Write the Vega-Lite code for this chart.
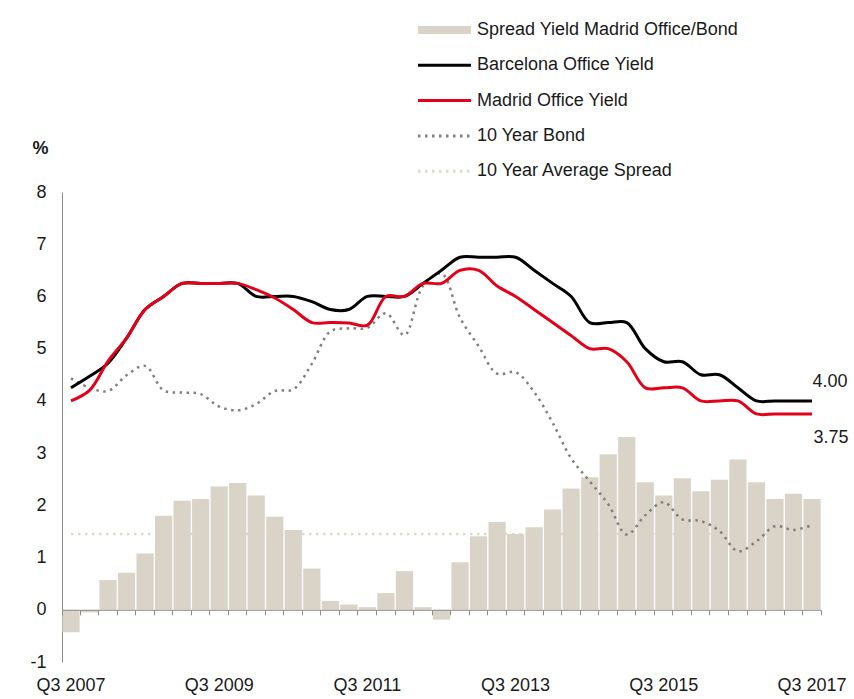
{
  "$schema": "https://vega.github.io/schema/vega-lite/v6.json",
  "width": 759,
  "height": 470,
  "autosize": {"type": "none"},
  "padding": {"left": 62, "top": 192, "right": 33, "bottom": 37},
  "background": "white",
  "config": {
    "font": "Liberation Sans",
    "view": {"stroke": null},
    "axis": {"labelFont": "Liberation Sans", "labelFontSize": 18, "labelColor": "#1a1a1a", "domainColor": "#8c8c8c", "tickColor": "#8c8c8c"}
  },
  "data": {
    "values": [
      {"q": "Q3 2007", "spread": -0.43, "bcn": 4.25, "mad": 4.0, "bond": 4.43, "avg": 1.45},
      {"q": "Q4 2007", "spread": -0.05, "bcn": 4.47, "mad": 4.2, "bond": 4.25, "avg": 1.45},
      {"q": "Q1 2008", "spread": 0.57, "bcn": 4.72, "mad": 4.76, "bond": 4.19, "avg": 1.45},
      {"q": "Q2 2008", "spread": 0.71, "bcn": 5.2, "mad": 5.2, "bond": 4.49, "avg": 1.45},
      {"q": "Q3 2008", "spread": 1.08, "bcn": 5.75, "mad": 5.75, "bond": 4.67, "avg": 1.45},
      {"q": "Q4 2008", "spread": 1.8, "bcn": 6.0, "mad": 6.0, "bond": 4.2, "avg": 1.45},
      {"q": "Q1 2009", "spread": 2.09, "bcn": 6.25, "mad": 6.25, "bond": 4.16, "avg": 1.45},
      {"q": "Q2 2009", "spread": 2.12, "bcn": 6.25, "mad": 6.25, "bond": 4.13, "avg": 1.45},
      {"q": "Q3 2009", "spread": 2.36, "bcn": 6.25, "mad": 6.25, "bond": 3.89, "avg": 1.45},
      {"q": "Q4 2009", "spread": 2.43, "bcn": 6.25, "mad": 6.25, "bond": 3.82, "avg": 1.45},
      {"q": "Q1 2010", "spread": 2.19, "bcn": 6.0, "mad": 6.13, "bond": 3.94, "avg": 1.45},
      {"q": "Q2 2010", "spread": 1.78, "bcn": 6.0, "mad": 5.97, "bond": 4.19, "avg": 1.45},
      {"q": "Q3 2010", "spread": 1.53, "bcn": 6.0, "mad": 5.75, "bond": 4.22, "avg": 1.45},
      {"q": "Q4 2010", "spread": 0.79, "bcn": 5.9, "mad": 5.5, "bond": 4.71, "avg": 1.45},
      {"q": "Q1 2011", "spread": 0.17, "bcn": 5.75, "mad": 5.5, "bond": 5.33, "avg": 1.45},
      {"q": "Q2 2011", "spread": 0.1, "bcn": 5.75, "mad": 5.49, "bond": 5.39, "avg": 1.45},
      {"q": "Q3 2011", "spread": 0.05, "bcn": 6.0, "mad": 5.45, "bond": 5.4, "avg": 1.45},
      {"q": "Q4 2011", "spread": 0.32, "bcn": 6.0, "mad": 6.0, "bond": 5.68, "avg": 1.45},
      {"q": "Q1 2012", "spread": 0.74, "bcn": 6.0, "mad": 6.0, "bond": 5.26, "avg": 1.45},
      {"q": "Q2 2012", "spread": 0.05, "bcn": 6.25, "mad": 6.25, "bond": 6.2, "avg": 1.45},
      {"q": "Q3 2012", "spread": -0.19, "bcn": 6.5, "mad": 6.25, "bond": 6.44, "avg": 1.45},
      {"q": "Q4 2012", "spread": 0.91, "bcn": 6.75, "mad": 6.5, "bond": 5.59, "avg": 1.45},
      {"q": "Q1 2013", "spread": 1.41, "bcn": 6.75, "mad": 6.5, "bond": 5.05, "avg": 1.45},
      {"q": "Q2 2013", "spread": 1.68, "bcn": 6.75, "mad": 6.2, "bond": 4.52, "avg": 1.45},
      {"q": "Q3 2013", "spread": 1.45, "bcn": 6.75, "mad": 6.0, "bond": 4.55, "avg": 1.45},
      {"q": "Q4 2013", "spread": 1.58, "bcn": 6.5, "mad": 5.75, "bond": 4.17, "avg": 1.45},
      {"q": "Q1 2014", "spread": 1.92, "bcn": 6.25, "mad": 5.5, "bond": 3.58, "avg": 1.45},
      {"q": "Q2 2014", "spread": 2.32, "bcn": 6.0, "mad": 5.25, "bond": 2.9, "avg": 1.45},
      {"q": "Q3 2014", "spread": 2.54, "bcn": 5.5, "mad": 5.0, "bond": 2.46, "avg": 1.45},
      {"q": "Q4 2014", "spread": 2.98, "bcn": 5.5, "mad": 5.0, "bond": 2.02, "avg": 1.45},
      {"q": "Q1 2015", "spread": 3.31, "bcn": 5.5, "mad": 4.75, "bond": 1.44, "avg": 1.45},
      {"q": "Q2 2015", "spread": 2.44, "bcn": 5.0, "mad": 4.25, "bond": 1.81, "avg": 1.45},
      {"q": "Q3 2015", "spread": 2.19, "bcn": 4.75, "mad": 4.25, "bond": 2.06, "avg": 1.45},
      {"q": "Q4 2015", "spread": 2.52, "bcn": 4.75, "mad": 4.25, "bond": 1.73, "avg": 1.45},
      {"q": "Q1 2016", "spread": 2.27, "bcn": 4.5, "mad": 4.0, "bond": 1.7, "avg": 1.45},
      {"q": "Q2 2016", "spread": 2.49, "bcn": 4.5, "mad": 4.0, "bond": 1.51, "avg": 1.45},
      {"q": "Q3 2016", "spread": 2.88, "bcn": 4.25, "mad": 4.0, "bond": 1.12, "avg": 1.45},
      {"q": "Q4 2016", "spread": 2.44, "bcn": 4.0, "mad": 3.75, "bond": 1.31, "avg": 1.45},
      {"q": "Q1 2017", "spread": 2.12, "bcn": 4.0, "mad": 3.75, "bond": 1.6, "avg": 1.45},
      {"q": "Q2 2017", "spread": 2.22, "bcn": 4.0, "mad": 3.75, "bond": 1.53, "avg": 1.45},
      {"q": "Q3 2017", "spread": 2.12, "bcn": 4.0, "mad": 3.75, "bond": 1.62, "avg": 1.45}
    ]
  },
  "resolve": {"axis": {"x": "independent"}},
  "layer": [
    {
      "mark": {"type": "line", "strokeWidth": 2.5, "strokeDash": [2.5, 4.5], "strokeCap": "butt"},
      "encoding": {
        "x": {"field": "q", "type": "nominal", "sort": null,
              "scale": {"type": "band", "paddingInner": 0.07, "paddingOuter": 0.02},
              "axis": {"orient": "bottom", "title": null, "domain": false, "ticks": false, "labelAngle": 0, "labelPadding": 14,
                       "labelExpr": "indexof(['Q3 2007','Q3 2009','Q3 2011','Q3 2013','Q3 2015','Q3 2017'], datum.value) >= 0 ? datum.value : ''"}},
        "y": {"field": "avg", "type": "quantitative",
              "scale": {"domain": [-1, 8], "nice": false, "zero": false},
              "axis": {"values": [-1, 0, 1, 2, 3, 4, 5, 6, 7, 8], "grid": false, "ticks": false, "labelPadding": 16,
                       "labelExpr": "replace(datum.label, '\u2212', '-')",
                       "title": "%", "titleAngle": 0, "titleFontSize": 18, "titleFontWeight": "bold", "titleColor": "#1a1a1a",
                       "titleX": -22, "titleY": -44, "titleAlign": "center", "titleBaseline": "middle"}},
        "color": {"datum": "10 Year Average Spread", "type": "nominal",
                  "scale": {"domain": ["Spread Yield Madrid Office/Bond", "Barcelona Office Yield", "Madrid Office Yield", "10 Year Bond", "10 Year Average Spread"],
                            "range": ["#d9d4c7", "#000000", "#e2001a", "#7f7f7f", "#ddd9cb"]},
                  "legend": {"orient": "none", "legendX": 356, "legendY": -171, "title": null,
                             "symbolType": "stroke", "symbolSize": 2809, "labelFontSize": 18, "labelFont": "Liberation Sans",
                             "labelColor": "#1a1a1a", "labelOffset": 6, "labelLimit": 400, "rowPadding": 17.3, "padding": 0,
                             "encode": {
                               "symbols": {"update": {
                                 "x": {"value": 26.5},
                                 "shape": {"signal": "datum.value === 'Spread Yield Madrid Office/Bond' ? 'M-1,-0.15H1V0.15H-1Z' : 'stroke'"},
                                 "stroke": {"scale": "color", "field": "value"},
                                 "fill": {"signal": "datum.value === 'Spread Yield Madrid Office/Bond' ? '#d9d4c7' : 'transparent'"},
                                 "opacity": {"value": 1},
                                 "strokeWidth": {"signal": "datum.value === 'Spread Yield Madrid Office/Bond' ? 0 : 3"},
                                 "strokeDash": {"signal": "indexof(datum.value, '10 Year') === 0 ? [2.5, 4.5] : [1, 0]"}
                               }},
                               "labels": {"update": {"x": {"value": 59}}}
                             }}}
      }
    },
    {
      "mark": {"type": "bar"},
      "encoding": {
        "x": {"field": "q", "type": "nominal", "sort": null,
              "axis": {"orient": "bottom", "title": null, "labels": false, "labelExpr": "''", "domain": true, "ticks": true, "tickBand": "extent", "tickSize": 5, "offset": -52.2, "zindex": 1}},
        "y": {"field": "spread", "type": "quantitative"},
        "color": {"datum": "Spread Yield Madrid Office/Bond", "type": "nominal"}
      }
    },
    {
      "mark": {"type": "line", "strokeWidth": 2.5, "strokeDash": [2.5, 4.5], "strokeCap": "butt", "interpolate": "catmull-rom"},
      "encoding": {
        "x": {"field": "q", "type": "nominal", "sort": null, "axis": null},
        "y": {"field": "bond", "type": "quantitative"},
        "color": {"datum": "10 Year Bond", "type": "nominal"}
      }
    },
    {
      "mark": {"type": "line", "strokeWidth": 3, "interpolate": "catmull-rom"},
      "encoding": {
        "x": {"field": "q", "type": "nominal", "sort": null, "axis": null},
        "y": {"field": "bcn", "type": "quantitative"},
        "color": {"datum": "Barcelona Office Yield", "type": "nominal"}
      }
    },
    {
      "mark": {"type": "line", "strokeWidth": 3, "interpolate": "catmull-rom"},
      "encoding": {
        "x": {"field": "q", "type": "nominal", "sort": null, "axis": null},
        "y": {"field": "mad", "type": "quantitative"},
        "color": {"datum": "Madrid Office Yield", "type": "nominal"}
      }
    },
    {
      "transform": [{"filter": "datum.q === 'Q3 2017'"}],
      "mark": {"type": "text", "fontSize": 18, "color": "#1a1a1a", "dx": 18, "dy": -19, "align": "center", "baseline": "middle"},
      "encoding": {
        "x": {"field": "q", "type": "nominal", "sort": null, "axis": null},
        "y": {"field": "bcn", "type": "quantitative"},
        "text": {"field": "bcn", "type": "quantitative", "format": ".2f"}
      }
    },
    {
      "transform": [{"filter": "datum.q === 'Q3 2017'"}],
      "mark": {"type": "text", "fontSize": 18, "color": "#1a1a1a", "dx": 19, "dy": 24, "align": "center", "baseline": "middle"},
      "encoding": {
        "x": {"field": "q", "type": "nominal", "sort": null, "axis": null},
        "y": {"field": "mad", "type": "quantitative"},
        "text": {"field": "mad", "type": "quantitative", "format": ".2f"}
      }
    }
  ]
}
